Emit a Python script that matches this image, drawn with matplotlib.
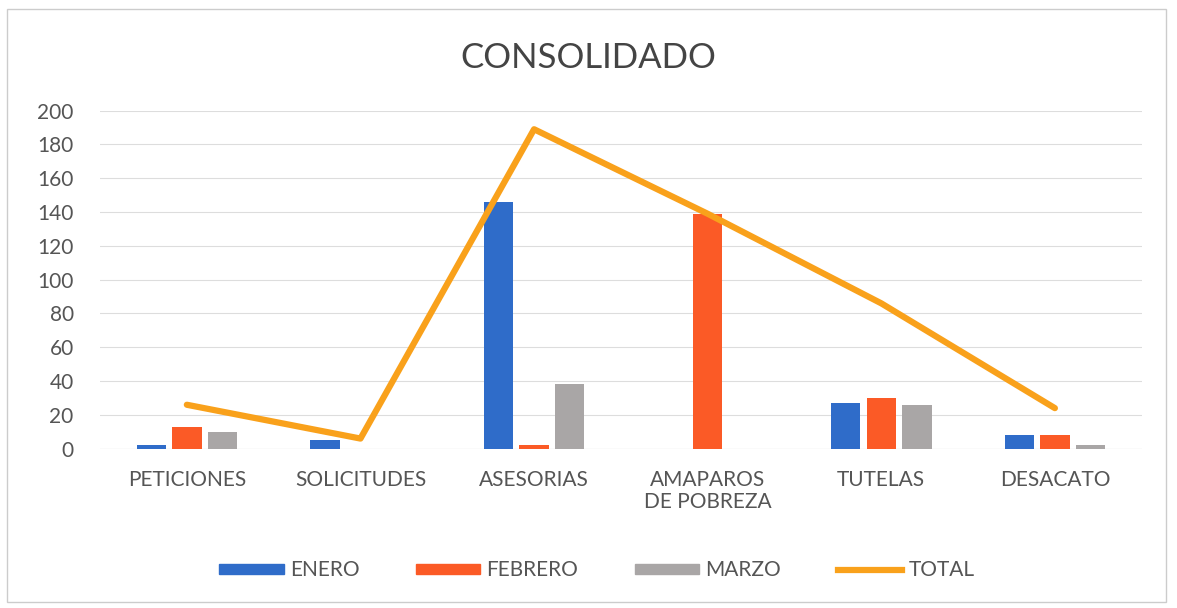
import numpy as np
import matplotlib.pyplot as plt
from matplotlib.patches import Patch
from matplotlib.lines import Line2D

categories = ["PETICIONES", "SOLICITUDES", "ASESORIAS", "AMAPAROS\nDE POBREZA", "TUTELAS", "DESACATO"]
enero = [2, 5, 146, 0, 27, 8]
febrero = [13, 0, 2, 139, 30, 8]
marzo = [10, 0, 38, 0, 26, 2]
total = [26, 6, 189, 139, 86, 24]

c_enero = "#2f6cc9"
c_feb = "#fb5a26"
c_mar = "#a9a6a6"
c_tot = "#f9a11b"

plt.rcParams['font.family'] = ['Lato', 'DejaVu Sans']

fig = plt.figure(figsize=(11.77, 6.08), dpi=100)
ax = fig.add_axes([0.085, 0.262, 0.885, 0.556])

x = np.arange(len(categories))
w = 0.17
gap = 0.035
ax.bar(x - w - gap, enero, w, color=c_enero, label="ENERO", zorder=2)
ax.bar(x, febrero, w, color=c_feb, label="FEBRERO", zorder=2)
ax.bar(x + w + gap, marzo, w, color=c_mar, label="MARZO", zorder=2)
ax.plot(x, total, color=c_tot, lw=4.5, solid_capstyle='round', zorder=3, label="TOTAL")

ax.set_xlim(-0.5, len(categories) - 0.5)
ax.set_ylim(0, 200)
ax.set_yticks(range(0, 201, 20))
ax.set_xticks(x)
ax.set_xticklabels(categories, fontsize=15, color="#555555", linespacing=1.15)
ax.tick_params(axis='y', labelsize=15, colors="#555555", length=0, pad=19)
ax.tick_params(axis='x', length=0, pad=15, colors="#555555")
ax.grid(axis='y', color="#dddddd", lw=0.8, zorder=0)
for s in ax.spines.values():
    s.set_visible(False)
ax.axhline(0, color="#cccccc", lw=0.8, zorder=1)

fig.text(0.5, 0.905, "CONSOLIDADO", ha='center', va='center', fontsize=25, color="#444444")

handles = [Patch(color=c_enero), Patch(color=c_feb), Patch(color=c_mar),
           Line2D([0], [0], color=c_tot, lw=4.5)]
fig.legend(handles, ["ENERO", "FEBRERO", "MARZO", "TOTAL"], loc='center',
           bbox_to_anchor=(0.507, 0.062), ncol=4, frameon=False, fontsize=15,
           handlelength=3.1, handleheight=0.4, columnspacing=2.7, handletextpad=0.3,
           labelcolor="#555555")

fig.patches.append(plt.Rectangle((0.006, 0.01), 0.985, 0.975, transform=fig.transFigure,
                                 fill=False, edgecolor="#cccccc", lw=1))

fig.savefig("out.png", dpi=100)
